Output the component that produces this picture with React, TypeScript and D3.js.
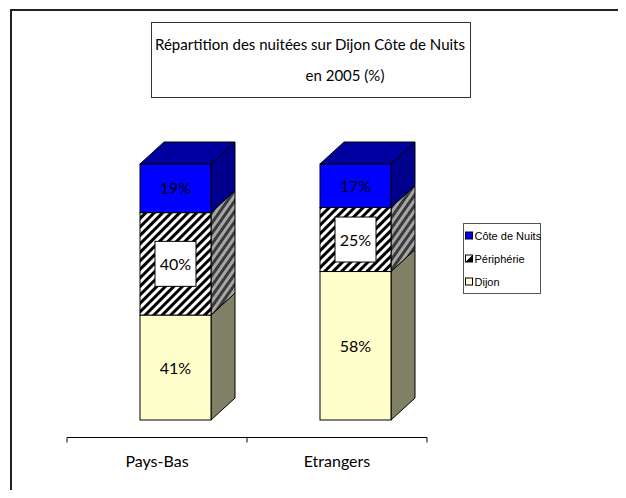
import React, { useEffect, useRef } from 'react';
import * as d3 from 'd3';

const categories = ['Pays-Bas', 'Etrangers'];
const seriesNames = ['Dijon', 'Périphérie', 'Côte de Nuits'];
const dijon = [41, 58];
const peripherie = [40, 25];
const coteDeNuits = [19, 17];
const titleLines = ['Répartition des nuitées sur Dijon Côte de Nuits', 'en 2005 (%)'];

const W = 626;
const H = 498;

const App: React.FC = () => {
  const svgRef = useRef<SVGSVGElement>(null);

  useEffect(() => {
    if (!svgRef.current) return;
    const svg = d3.select(svgRef.current);
    svg.selectAll('*').remove();

    const labelFont = '"Comic Sans MS", "Lato", sans-serif';

    // patterns
    const defs = svg.append('defs');
    const hatch = defs.append('pattern')
      .attr('id', 'hatch')
      .attr('patternUnits', 'userSpaceOnUse')
      .attr('width', 6).attr('height', 6)
      .attr('patternTransform', 'rotate(45)');
    hatch.append('rect').attr('width', 6).attr('height', 6).attr('fill', '#fff');
    hatch.append('rect').attr('width', 3).attr('height', 6).attr('fill', '#000');

    const hatchSide = defs.append('pattern')
      .attr('id', 'hatchSide')
      .attr('patternUnits', 'userSpaceOnUse')
      .attr('width', 6).attr('height', 6)
      .attr('patternTransform', 'rotate(35)');
    hatchSide.append('rect').attr('width', 6).attr('height', 6).attr('fill', '#a6a6a6');
    hatchSide.append('rect').attr('width', 3).attr('height', 6).attr('fill', '#3a3a3a');

    // outer frame
    svg.append('rect')
      .attr('x', 11).attr('y', 10)
      .attr('width', 700).attr('height', 600)
      .attr('fill', 'none')
      .attr('stroke', '#222')
      .attr('stroke-width', 2);

    // title box
    svg.append('rect')
      .attr('x', 151.5).attr('y', 22.5)
      .attr('width', 319).attr('height', 75)
      .attr('fill', '#fff')
      .attr('stroke', '#333');
    svg.append('text')
      .attr('x', 310).attr('y', 50)
      .attr('text-anchor', 'middle')
      .style('font-family', labelFont)
      .style('font-size', '15px')
      .attr('textLength', 310)
      .attr('lengthAdjust', 'spacingAndGlyphs')
      .text(titleLines[0]);
    svg.append('text')
      .attr('x', 345).attr('y', 81)
      .attr('text-anchor', 'middle')
      .style('font-family', labelFont)
      .style('font-size', '15px')
      .text(titleLines[1]);

    // scales
    const x = d3.scaleBand<string>().domain(categories).range([67, 427]);
    const y = d3.scaleLinear().domain([0, 100]).range([420, 164]);
    const barW = 71;
    const floorDx = 18.5;
    const dx = 24;
    const dy = -22;

    // category axis
    const axis = svg.append('g')
      .attr('transform', 'translate(0,437.5)')
      .call(d3.axisBottom(x).tickSize(0).tickFormat(() => ''));
    axis.select('.domain').remove();
    axis.append('line')
      .attr('x1', 67).attr('x2', 427)
      .attr('stroke', '#000');
    [67, ...categories.map(c => (x(c) as number) + x.bandwidth())].forEach(t => {
      axis.append('line')
        .attr('x1', t).attr('x2', t)
        .attr('y1', 0).attr('y2', 5)
        .attr('stroke', '#000');
    });
    categories.forEach(c => {
      svg.append('text')
        .attr('x', (x(c) as number) + x.bandwidth() / 2)
        .attr('y', 467)
        .attr('text-anchor', 'middle')
        .style('font-family', labelFont)
        .style('font-size', '16px')
        .text(c);
    });

    const series = [
      { name: seriesNames[0], values: dijon, front: '#ffffcc', side: '#808066', top: '#ffffcc' },
      { name: seriesNames[1], values: peripherie, front: 'url(#hatch)', side: 'url(#hatchSide)', top: 'url(#hatch)' },
      { name: seriesNames[2], values: coteDeNuits, front: '#0000ff', side: '#00008c', top: '#0000a0' },
    ];

    const bars = svg.append('g');
    categories.forEach((c, i) => {
      const x0 = (x(c) as number) + x.bandwidth() / 2 + floorDx - barW / 2;
      const x1 = x0 + barW;
      let cum = 0;
      series.forEach((s, si) => {
        const v = s.values[i];
        const yb = y(cum);
        const yt = y(cum + v);
        cum += v;
        const g = bars.append('g');
        g.append('path')
          .attr('d', `M${x1},${yt}L${x1 + dx},${yt + dy}L${x1 + dx},${yb + dy}L${x1},${yb}Z`)
          .attr('fill', s.side)
          .attr('stroke', '#000')
          .attr('stroke-width', 1);
        if (si === series.length - 1) {
          g.append('path')
            .attr('d', `M${x0},${yt}L${x0 + dx},${yt + dy}L${x1 + dx},${yt + dy}L${x1},${yt}Z`)
            .attr('fill', s.top)
            .attr('stroke', '#000')
            .attr('stroke-width', 1);
        }
        g.append('rect')
          .attr('x', x0).attr('y', yt)
          .attr('width', barW).attr('height', yb - yt)
          .attr('fill', s.front)
          .attr('stroke', '#000')
          .attr('stroke-width', 1);
        const cx = x0 + barW / 2;
        const cy = (yt + yb) / 2;
        if (s.name === 'Périphérie') {
          g.append('rect')
            .attr('x', cx - 20.5).attr('y', cy - 22.5)
            .attr('width', 41).attr('height', 45)
            .attr('fill', '#fff')
            .attr('stroke', '#000');
        }
        g.append('text')
          .attr('x', cx).attr('y', cy + 6)
          .attr('text-anchor', 'middle')
          .style('font-family', labelFont)
          .style('font-size', '16px')
          .attr('fill', '#000')
          .text(`${v}%`);
      });
    });

    // legend
    const legend = svg.append('g');
    legend.append('rect')
      .attr('x', 463.5).attr('y', 223.5)
      .attr('width', 77).attr('height', 70)
      .attr('fill', '#fff')
      .attr('stroke', '#555');
    const legendItems = [series[2], series[1], series[0]];
    legendItems.forEach((s, i) => {
      const ly = 236 + i * 23;
      const item = legend.append('g').attr('transform', `translate(465.5,${ly})`);
      if (s.name === 'Périphérie') {
        item.append('rect').attr('x', 0).attr('y', -4).attr('width', 7).attr('height', 7).attr('fill', '#fff').attr('stroke', '#000');
        item.append('path').attr('d', 'M0,3L7,-4L7,3Z').attr('fill', '#000');
      } else {
        item.append('rect')
          .attr('x', 0).attr('y', -4)
          .attr('width', 7).attr('height', 7)
          .attr('fill', s.front)
          .attr('stroke', '#000');
      }
      item.append('text')
        .attr('x', 9).attr('y', 4)
        .style('font-family', '"Liberation Sans", Arial, sans-serif')
        .style('font-size', '11px')
        .text(s.name);
    });
  }, []);

  return (
    <div style={{ width: W, height: H, margin: -8, overflow: 'hidden', background: '#fff' }}>
      <svg ref={svgRef} width={W} height={H} style={{ display: 'block' }} />
    </div>
  );
};

export default App;
